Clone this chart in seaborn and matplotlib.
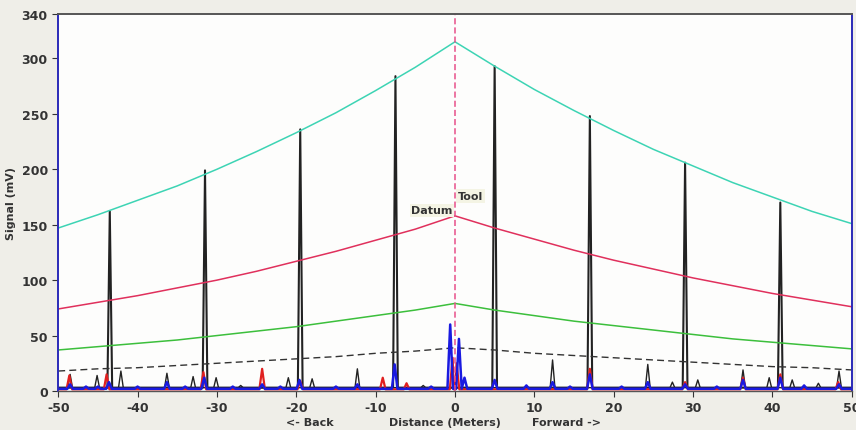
import numpy as np
import pandas as pd
import matplotlib
matplotlib.use("Agg")
import matplotlib.pyplot as plt
import seaborn as sns

# ---- data ----
curve_x = [-50, -45, -40, -35, -30, -25, -20, -15, -10, -5, 0,
           5, 10, 15, 20, 25, 30, 35, 40, 45, 50]
cyan_y = [147, 159, 172, 185, 200, 216, 233, 251, 271, 292, 315,
          293, 272, 253, 235, 218, 203, 188, 175, 162, 151]
red_y = [74, 80, 86, 93, 100, 108, 117, 126, 136, 146, 158,
         147, 137, 127, 118, 110, 102, 95, 88, 82, 76]
green_y = [37, 40, 43, 46, 50, 54, 58, 63, 68, 73, 79,
           73, 68, 63, 59, 55, 51, 47, 44, 41, 38]
dash_y = [18, 20, 21, 23, 25, 27, 29, 31, 34, 36, 39,
          37, 34, 32, 30, 28, 26, 24, 22, 21, 19]

big_spike_x = [-43.5, -31.5, -19.5, -7.5, 5, 17, 29, 41]
big_spike_h = [162, 199, 236, 284, 293, 248, 206, 170]

black_peak_x = [-48.5, -45.1, -42.1, -36.3, -33.0, -30.1, -27.0, -21.0, -18.0,
                -12.3, -4.0, 12.3, 24.3, 27.4, 30.6, 36.3, 39.6, 42.5, 45.8, 48.4]
black_peak_h = [15, 14, 18, 16, 13, 12, 5, 12, 11,
                20, 5, 28, 24, 8, 10, 19, 12, 10, 7, 18]

red_peak_x = [-48.6, -43.9, -31.7, -24.3, -19.5, -9.1, -6.1, -0.3, 0.2,
              17.0, 29.0, 36.3, 41.0, 48.3]
red_peak_h = [14, 15, 17, 20, 9, 12, 7, 30, 25, 20, 8, 12, 15, 8]

blue_peak_x = [-48.5, -46.5, -45.0, -43.6, -40.0, -36.3, -34.0, -31.6, -28.0,
               -24.3, -22.0, -19.6, -15.0, -12.3, -7.6, -3.0,
               -0.6, 0.5, 1.2, 5.0, 9.0, 12.3, 14.5, 17.0, 21.0, 24.3, 29.0,
               33.0, 36.3, 41.0, 44.0, 48.4]
blue_peak_h = [6, 4, 4, 8, 4, 8, 4, 12, 4, 6, 4, 10, 4, 6, 24, 4,
               60, 47, 12, 10, 5, 8, 4, 15, 4, 8, 6, 4, 10, 12, 5, 6]

x_ticks = [-50, -40, -30, -20, -10, 0, 10, 20, 30, 40, 50]
y_ticks = [0, 50, 100, 150, 200, 250, 300, 340]


def trace(px, ph, base, w):
    pts = [(-50.0, base), (50.0, base)]
    for p, h in zip(px, ph):
        pts += [(p - w, base), (p, h), (p + w, base)]
    pts.sort()
    xs, ys = [], []
    for a, b in pts:
        if xs and abs(a - xs[-1]) < 1e-9:
            ys[-1] = max(ys[-1], b)
        else:
            xs.append(a)
            ys.append(b)
    return pd.DataFrame({"x": xs, "y": ys})


sns.set_theme(style="white")
plt.rcParams['font.family'] = ['DejaVu Sans']
plt.rcParams['axes.unicode_minus'] = False

fig = plt.figure(figsize=(8.56, 4.31), dpi=100, facecolor="#efeee8")
ax = fig.add_axes([0.068, 0.0905, 0.927, 0.8745])
ax.set_facecolor("#fdfdfc")

curves = pd.DataFrame({"x": curve_x, "cyan": cyan_y, "red": red_y,
                       "green": green_y, "dash": dash_y})

# black spikes (big + small)
big = trace(big_spike_x, big_spike_h, 3, 0.3)
small = trace(black_peak_x, black_peak_h, 3, 0.3)
sns.lineplot(data=big, x="x", y="y", ax=ax, color="#222222", lw=1.5,
             estimator=None, sort=True)
sns.lineplot(data=small, x="x", y="y", ax=ax, color="#222222", lw=1.0,
             estimator=None, sort=True)

sns.lineplot(data=curves, x="x", y="cyan", ax=ax, color="#3dd4b4", lw=1.1)
sns.lineplot(data=curves, x="x", y="red", ax=ax, color="#e0305c", lw=1.1)
sns.lineplot(data=curves, x="x", y="green", ax=ax, color="#3cbf3c", lw=1.1)
sns.lineplot(data=curves, x="x", y="dash", ax=ax, color="#333333", lw=1.0,
             linestyle=(0, (5, 3)))

red_tr = trace(red_peak_x, red_peak_h, 1.5, 0.35)
blue_tr = trace(blue_peak_x, blue_peak_h, 2, 0.35)
sns.lineplot(data=red_tr, x="x", y="y", ax=ax, color="#e02020", lw=1.6,
             estimator=None)
sns.lineplot(data=blue_tr, x="x", y="y", ax=ax, color="#1a1ae0", lw=1.8,
             estimator=None)

ax.axvline(0, color="#e8508a", lw=1.1, linestyle=(0, (4, 2)))

ax.text(0.4, 176, "Tool", fontsize=8, fontweight="bold", color="#333333",
        ha="left", va="center",
        bbox=dict(boxstyle="square,pad=0.15", fc="#f4f4e4", ec="none"))
ax.text(-0.3, 163, "Datum", fontsize=8, fontweight="bold", color="#333333",
        ha="right", va="center",
        bbox=dict(boxstyle="square,pad=0.15", fc="#f4f4e4", ec="none"))

ax.set_xlim(-50, 50)
ax.set_ylim(0, 340)
ax.set_xticks(x_ticks)
ax.set_yticks(y_ticks)
ax.set_xlabel("")
ax.set_ylabel("Signal (mV)", fontsize=8, fontweight="bold", color="#333333",
              labelpad=4)
ax.tick_params(axis="both", labelsize=9, colors="#333333", length=4,
               direction="out", bottom=True, left=True, width=0.8)
for lab in ax.get_xticklabels() + ax.get_yticklabels():
    lab.set_fontweight("bold")

for side in ["left", "right"]:
    ax.spines[side].set_color("#2a2ab8")
    ax.spines[side].set_linewidth(1.4)
ax.spines["top"].set_color("#555555")
ax.spines["top"].set_linewidth(1.4)
ax.spines["bottom"].set_color("#555555")
ax.spines["bottom"].set_linewidth(1.0)

fig.text(310 / 856, 1 - 423 / 431, "<- Back", fontsize=8, fontweight="bold",
         color="#333333", ha="center", va="center")
fig.text(445 / 856, 1 - 423 / 431, "Distance (Meters)", fontsize=8,
         fontweight="bold", color="#333333", ha="center", va="center")
fig.text(567 / 856, 1 - 423 / 431, "Forward ->", fontsize=8, fontweight="bold",
         color="#333333", ha="center", va="center")

fig.savefig("out.png", dpi=100, facecolor=fig.get_facecolor())
